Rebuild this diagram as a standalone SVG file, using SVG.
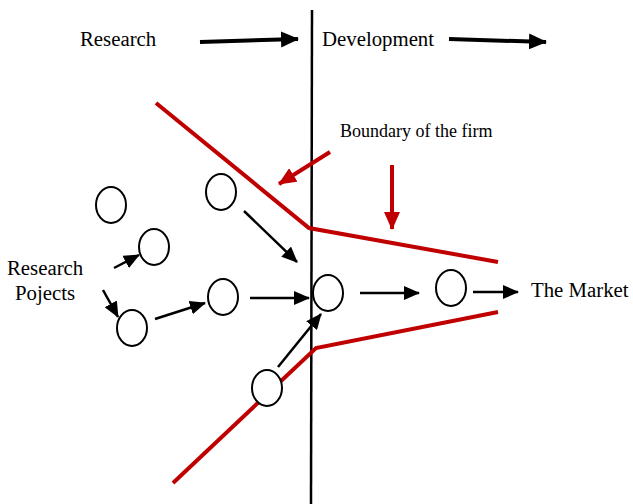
<svg xmlns="http://www.w3.org/2000/svg" width="633" height="504" viewBox="0 0 633 504">
<style>
text{font-family:"Liberation Serif","Times New Roman",serif;fill:#000}
.lbl{font-size:20.8px}
.b{font-size:18px}
.node{fill:#fff;stroke:#000;stroke-width:2}
.ar{stroke:#000;stroke-width:2.5;fill:none}
.top{stroke:#000;stroke-width:4;fill:none}
.red{stroke:#c00000;stroke-width:4;fill:none}
</style>
<defs>
<marker id="ah" markerUnits="userSpaceOnUse" markerWidth="16" markerHeight="14" refX="15" refY="7" orient="auto"><path d="M0,0 L16,7 L0,14 Z" fill="#000"/></marker>
<marker id="th" markerUnits="userSpaceOnUse" markerWidth="18" markerHeight="16" refX="17" refY="8" orient="auto"><path d="M0,0 L18,8 L0,16 Z" fill="#000"/></marker>
<marker id="rh" markerUnits="userSpaceOnUse" markerWidth="18" markerHeight="16" refX="17" refY="8" orient="auto"><path d="M0,0 L18,8 L0,16 Z" fill="#c00000"/></marker>
</defs>
<g id="labels">
<text class="lbl" x="80" y="46">Research</text>
<text class="lbl" x="322" y="46">Development</text>
<text class="b" x="340" y="137">Boundary of the firm</text>
<text class="lbl" x="7" y="275">Research</text>
<text class="lbl" x="15" y="300">Pojects</text>
<text class="lbl" x="531" y="297">The Market</text>
</g>
<g id="connectors">
<line x1="312" y1="10" x2="311" y2="504" stroke="#000" stroke-width="2.5"/>
<polyline class="red" points="156,103 309,228 498,262"/>
<polyline class="red" points="173,483 316,348 498,312"/>
<line class="red" x1="330" y1="152" x2="279" y2="184" marker-end="url(#rh)"/>
<line class="red" x1="392" y1="165" x2="392" y2="229" marker-end="url(#rh)"/>
<line class="top" x1="200" y1="42" x2="298" y2="39" marker-end="url(#th)"/>
<line class="top" x1="449" y1="39" x2="546" y2="42" marker-end="url(#th)"/>
<line class="ar" x1="114" y1="268" x2="139" y2="255" marker-end="url(#ah)"/>
<line class="ar" x1="103" y1="290" x2="118" y2="317" marker-end="url(#ah)"/>
<line class="ar" x1="155" y1="319" x2="205" y2="303" marker-end="url(#ah)"/>
<line class="ar" x1="250" y1="298" x2="309" y2="298" marker-end="url(#ah)"/>
<line class="ar" x1="244" y1="211" x2="297" y2="262" marker-end="url(#ah)"/>
<line class="ar" x1="278" y1="367" x2="321" y2="314" marker-end="url(#ah)"/>
<line class="ar" x1="360" y1="293" x2="419" y2="293" marker-end="url(#ah)"/>
<line class="ar" x1="473" y1="292" x2="518" y2="292" marker-end="url(#ah)"/>
</g>
<g id="n1"><ellipse class="node" cx="111" cy="205" rx="15" ry="18"/></g>
<g id="n2"><ellipse class="node" cx="154" cy="247" rx="15" ry="18"/></g>
<g id="n3"><ellipse class="node" cx="221" cy="192" rx="15" ry="18"/></g>
<g id="n4"><ellipse class="node" cx="132" cy="328" rx="15" ry="18"/></g>
<g id="n5"><ellipse class="node" cx="223" cy="297" rx="15" ry="18"/></g>
<g id="n6"><ellipse class="node" cx="328" cy="293" rx="15" ry="18"/></g>
<g id="n7"><ellipse class="node" cx="451" cy="288" rx="15" ry="18"/></g>
<g id="n8"><ellipse class="node" cx="267" cy="388" rx="15" ry="18"/></g>
</svg>
